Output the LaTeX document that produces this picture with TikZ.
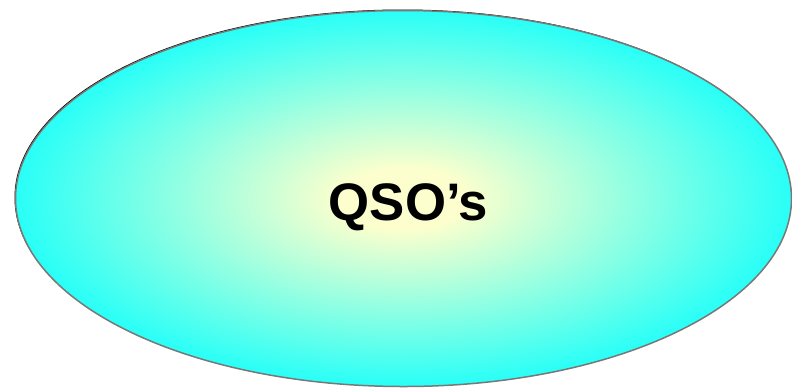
\documentclass[tikz,border=0pt]{standalone}
\usepackage{fontspec}
\setmainfont{Liberation Sans}
\usetikzlibrary{shapes.geometric}
\definecolor{qcenter}{RGB}{252,255,205}
\definecolor{qedge}{RGB}{0,255,255}
\definecolor{qborder}{RGB}{120,120,120}
\pgfdeclareradialshading{qsoshade}{\pgfpoint{0bp}{0bp}}{color(0bp)=(qcenter); color(4bp)=(qcenter); color(29bp)=(qedge); color(50bp)=(qedge)}
\tikzset{
  qsoellipse/.style={ellipse, draw=qborder, line width=1.5bp, shading=qsoshade,
    minimum width=776bp, minimum height=376bp, inner sep=0pt},
  qsolabel/.style={font=\bfseries\fontsize{53}{60}\selectfont, inner sep=0pt, anchor=base}
}
\begin{document}
\begin{tikzpicture}[x=1bp,y=-1bp]
\useasboundingbox (0,0) rectangle (792,388);
\fill[black] (402.5,197.5) ellipse [x radius=388, y radius=188];
\node[qsoellipse] (qso) at (403.5,198.5) {};
\node[qsolabel] (label) at (408.5,220) {QSO’s};
\end{tikzpicture}
\end{document}
